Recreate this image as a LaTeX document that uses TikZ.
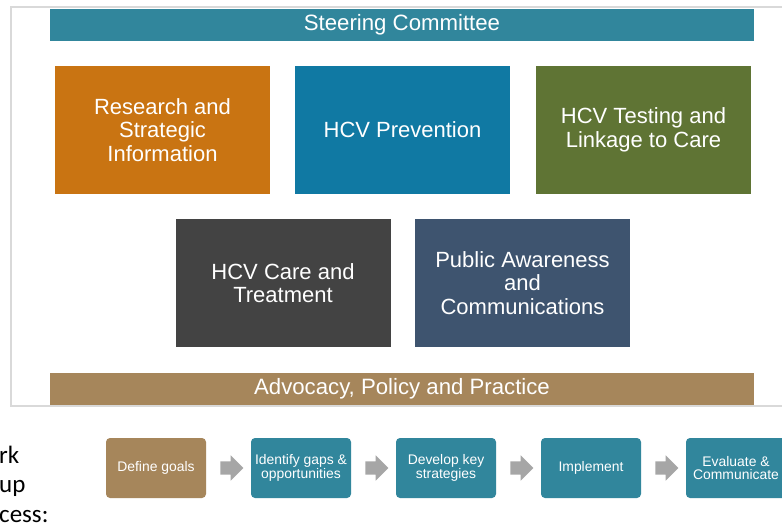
\documentclass[tikz,border=0pt]{standalone}
\usepackage{fontspec}
\setmainfont{Liberation Sans}
\newfontfamily\sidefont{Carlito}
\usetikzlibrary{shapes.arrows,calc}
\definecolor{teal}{RGB}{49,134,156}
\definecolor{orangebox}{RGB}{201,116,18}
\definecolor{bluebox}{RGB}{16,121,163}
\definecolor{greenbox}{RGB}{95,116,52}
\definecolor{greybox}{RGB}{67,67,67}
\definecolor{slatebox}{RGB}{62,84,111}
\definecolor{tanbox}{RGB}{166,134,91}
\definecolor{framegray}{RGB}{217,217,217}
\definecolor{arrowgray}{RGB}{166,166,166}
\begin{document}
\begin{tikzpicture}[x=1pt,y=-1pt,
    bar/.style={fill=#1,text=white,minimum width=704pt,minimum height=32pt,inner sep=0pt,
      font=\fontsize{22.2}{23.5}\selectfont},
    areabox/.style={fill=#1,text=white,minimum width=215pt,minimum height=128pt,inner sep=0pt,
      align=center,font=\fontsize{22}{23.5}\selectfont},
    stepbox/.style={fill=#1,text=white,rounded corners=4pt,minimum width=100pt,minimum height=60pt,
      inner sep=0pt,align=center,font=\fontsize{13.9}{13.5}\selectfont},
    flowarrow/.style={single arrow,fill=arrowgray,minimum height=23pt,inner sep=6.5pt,
      single arrow head extend=6pt,single arrow head indent=0pt,shape border rotate=0},
    sidetext/.style={anchor=base west,inner sep=0pt,font=\sidefont\fontsize{25}{29}\selectfont}]
\useasboundingbox (0,0) rectangle (782,527);
\fill[white] (0,0) rectangle (782,527);
\draw[framegray,line width=1.5pt] (11,7) rectangle (800,406);
\node[bar=teal] (steering) at (402,25) {Steering Committee};
\node[areabox=orangebox] (research) at (162.5,130) {Research and\\Strategic\\Information};
\node[areabox=bluebox] (prevention) at (402.5,130) {HCV Prevention};
\node[areabox=greenbox] (testing) at (643.5,130) {HCV Testing and\\Linkage to Care};
\node[areabox=greybox] (care) at (283,283) {HCV Care and\\Treatment};
\node[areabox=slatebox] (awareness) at (522.5,283) {Public Awareness\\and\\Communications};
\node[bar=tanbox] (advocacy) at (402,389) {Advocacy, Policy and Practice};
\node[sidetext] (side1) at (-1,463) {rk};
\node[sidetext] (side2) at (-1,492) {up};
\node[sidetext] (side3) at (-1,522) {cess:};
\node[stepbox=tanbox] (goals) at (156,468) {Define goals};
\node[stepbox=teal] (gaps) at (301,468) {Identify gaps \&\\opportunities};
\node[stepbox=teal] (strategies) at (446,468) {Develop key\\strategies};
\node[stepbox=teal] (implement) at (591,468) {Implement};
\node[stepbox=teal] (evaluate) at (736,468) {Evaluate \&\\Communicate};
\node[flowarrow] (arr1) at ($(goals.east)!0.5!(gaps.west)$) {};
\node[flowarrow] (arr2) at ($(gaps.east)!0.5!(strategies.west)$) {};
\node[flowarrow] (arr3) at ($(strategies.east)!0.5!(implement.west)$) {};
\node[flowarrow] (arr4) at ($(implement.east)!0.5!(evaluate.west)$) {};
\end{tikzpicture}
\end{document}
